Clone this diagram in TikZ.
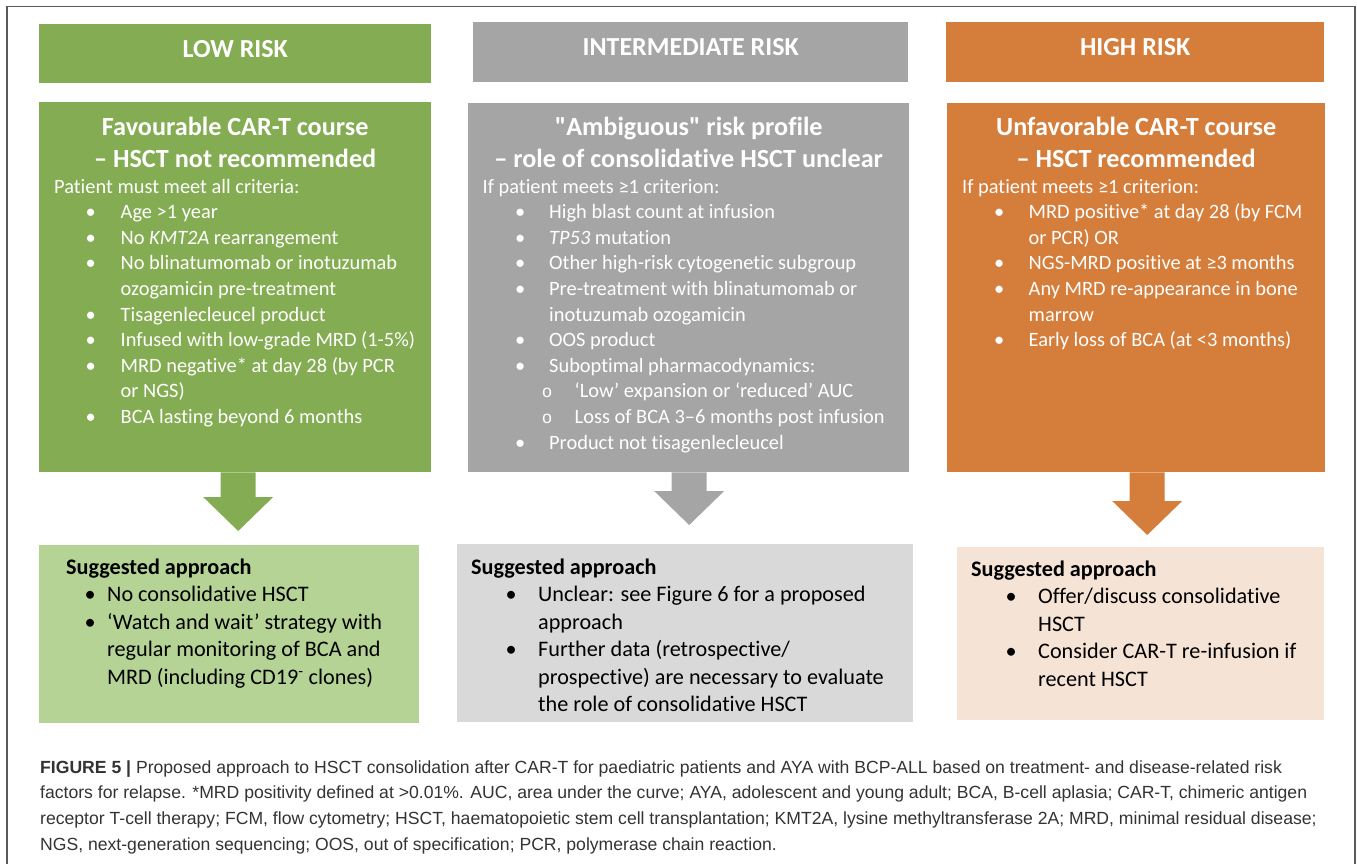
\documentclass[tikz,border=0pt]{standalone}
\usepackage{fontspec}
\setmainfont{Carlito}[Ligatures=NoCommon]
\newfontfamily\capfont{Liberation Sans}
\newfontfamily\subfont{Liberation Mono}
\usetikzlibrary{positioning,calc}

\definecolor{lowgreen}{HTML}{84AC52}
\definecolor{midgray}{HTML}{A5A5A5}
\definecolor{highorange}{HTML}{D57D3B}
\definecolor{lowlight}{HTML}{B4D394}
\definecolor{midlight}{HTML}{D9D9D9}
\definecolor{highlight}{HTML}{F5E3D6}
\definecolor{framegray}{HTML}{5A5A5A}
\definecolor{captext}{HTML}{333333}

% bullet at #1 from the left, text #2 further on
\newcommand{\bu}[2]{\hspace*{#1}\makebox[0pt]{\textbullet}\hspace*{#2}}
\newcommand{\sbu}[2]{\hspace*{#1}\makebox[0pt]{\subfont\fontsize{17.5}{17.5}\selectfont o}\hspace*{#2}}

% block arrow: colour, from node, to node, x offset, gap above target
\newcommand{\blockarr}[5]{%
  \path let \p1=([xshift=#4pt]#2.south), \p2=(#3.north) in
    [fill=#1] (\x1-17.5pt,\y1) -- (\x1-17.5pt,\y2+#5pt+34pt) -- (\x1-35pt,\y2+#5pt+34pt)
    -- (\x1,\y2+#5pt) -- (\x1+35pt,\y2+#5pt+34pt) -- (\x1+17.5pt,\y2+#5pt+34pt)
    -- (\x1+17.5pt,\y1) -- cycle;}

\tikzset{
  riskhead/.style={fill=#1, anchor=north west, inner sep=0pt, text=white,
    text height=17pt, text depth=10pt, font=\bfseries\fontsize{26}{30}\selectfont},
  critbox/.style={fill=#1, anchor=north west, inner sep=0pt},
  critttl/.style={anchor=north, inner sep=0pt, align=center, text=white,
    font=\bfseries\fontsize{26.2}{31.5}\selectfont},
  critlist/.style={anchor=north west, inner sep=0pt, align=left, text=white,
    font=\fontsize{20.4}{25.6}\selectfont},
  planbox/.style={fill=#1, anchor=north west, inner sep=0pt},
  planlist/.style={anchor=north west, inner sep=0pt, align=left, text=black,
    font=\fontsize{22.2}{27.5}\selectfont},
}

\begin{document}
\begin{tikzpicture}[x=1pt,y=-1pt]
\useasboundingbox (0,0) rectangle (1357,864);

% outer frame
\draw[framegray, line width=1.5pt] (7,864) -- (7,6.5) -- (1355,6.5) -- (1355,864);

% headers
\node[riskhead=lowgreen, minimum width=392, minimum height=59] (lowhead) at (39,24) {LOW RISK};
\node[riskhead=midgray, minimum width=435, minimum height=60] (midhead) at (473,22) {INTERMEDIATE RISK};
\node[riskhead=highorange, minimum width=378, minimum height=60] (highhead) at (946,22) {HIGH RISK};

% criteria boxes
\node[critbox=lowgreen, minimum width=392, minimum height=370] (lowcrit) at (39,102) {};
\node[critbox=midgray, minimum width=441, minimum height=369] (midcrit) at (468,103) {};
\node[critbox=highorange, minimum width=378, minimum height=369] (highcrit) at (947,103) {};

\node[critttl] (lowttl) at ([yshift=-11.5pt]lowcrit.north)
  {\strut Favourable CAR-T course\\– HSCT not recommended};
\node[critttl] (midttl) at ([yshift=-10.5pt]midcrit.north)
  {\strut \textquotedbl Ambiguous\textquotedbl{} risk profile\\– role of consolidative HSCT unclear};
\node[critttl] (highttl) at ([yshift=-10.5pt]highcrit.north)
  {\strut Unfavorable CAR-T course\\– HSCT recommended};

\node[critlist] (lowlist) at ([xshift=15pt,yshift=-73pt]lowcrit.north west) {\strut
  Patient must meet all criteria:\\
  \bu{36.5pt}{30pt}Age >1 year\\
  \bu{36.5pt}{30pt}No \textit{KMT2A} rearrangement\\
  \bu{36.5pt}{30pt}No blinatumomab or inotuzumab\\
  \hspace*{66.5pt}ozogamicin pre-treatment\\
  \bu{36.5pt}{30pt}Tisagenlecleucel product\\
  \bu{36.5pt}{30pt}Infused with low-grade MRD (1-5\%)\\
  \bu{36.5pt}{30pt}MRD negative* at day 28 (by PCR\\
  \hspace*{66.5pt}or NGS)\\
  \bu{36.5pt}{30pt}BCA lasting beyond 6 months};

\node[critlist] (midlist) at ([xshift=14.5pt,yshift=-72pt]midcrit.north west) {\strut
  If patient meets ≥1 criterion:\\
  \bu{37.5pt}{29pt}High blast count at infusion\\
  \bu{37.5pt}{29pt}\textit{TP53} mutation\\
  \bu{37.5pt}{29pt}Other high-risk cytogenetic subgroup\\
  \bu{37.5pt}{29pt}Pre-treatment with blinatumomab or\\
  \hspace*{66.5pt}inotuzumab ozogamicin\\
  \bu{37.5pt}{29pt}OOS product\\
  \bu{37.5pt}{29pt}Suboptimal pharmacodynamics:\\
  \sbu{64.5pt}{27.5pt}‘Low’ expansion or ‘reduced’ AUC\\
  \sbu{64.5pt}{27.5pt}Loss of BCA 3–6 months post infusion\\
  \bu{37.5pt}{29pt}Product not tisagenlecleucel};

\node[critlist] (highlist) at ([xshift=15pt,yshift=-72pt]highcrit.north west) {\strut
  If patient meets ≥1 criterion:\\
  \bu{37pt}{29.5pt}MRD positive* at day 28 (by FCM\\
  \hspace*{66.5pt}or PCR) OR\\
  \bu{37pt}{29.5pt}NGS-MRD positive at ≥3 months\\
  \bu{37pt}{29.5pt}Any MRD re-appearance in bone\\
  \hspace*{66.5pt}marrow\\
  \bu{37pt}{29.5pt}Early loss of BCA (at <3 months)};

% approach boxes
\node[planbox=lowlight, minimum width=380, minimum height=178] (lowplan) at (39,545) {};
\node[planbox=midlight, minimum width=456, minimum height=178] (midplan) at (457,544) {};
\node[planbox=highlight, minimum width=367, minimum height=173] (highplan) at (957,547) {};

\blockarr{lowgreen}{lowcrit}{lowplan}{3}{14}
\blockarr{midgray}{midcrit}{midplan}{0.5}{19}
\blockarr{highorange}{highcrit}{highplan}{11}{12}

\node[planlist] (lowtext) at ([xshift=27pt,yshift=-10pt]lowplan.north west) {\strut
  \textbf{Suggested approach}\\
  \bu{24pt}{17pt}No consolidative HSCT\\
  \bu{24pt}{17pt}‘Watch and wait’ strategy with\\
  \hspace*{41pt}regular monitoring of BCA and\\
  \hspace*{41pt}MRD (including CD19\textsuperscript{-} clones)};

\node[planlist] (midtext) at ([xshift=14pt,yshift=-11pt]midplan.north west) {\strut
  \textbf{Suggested approach}\\
  \bu{40pt}{27pt}Unclear: see Figure 6 for a proposed\\
  \hspace*{67pt}approach\\
  \bu{40pt}{27pt}Further data (retrospective/\\
  \hspace*{67pt}prospective) are necessary to evaluate\\
  \hspace*{67pt}the role of consolidative HSCT};

\node[planlist] (hightext) at ([xshift=14pt,yshift=-10pt]highplan.north west) {\strut
  \textbf{Suggested approach}\\
  \bu{40pt}{27pt}Offer/discuss consolidative\\
  \hspace*{67pt}HSCT\\
  \bu{40pt}{27pt}Consider CAR-T re-infusion if\\
  \hspace*{67pt}recent HSCT};

% caption
\node[anchor=north west, inner sep=0pt, align=left, text=captext,
  font=\capfont\fontsize{17.6}{25.7}\selectfont] (caption) at (40,755) {\strut
  \textbf{FIGURE 5 |} Proposed approach to HSCT consolidation after CAR-T for paediatric patients and AYA with BCP-ALL based on treatment- and disease-related risk\\
  factors for relapse. *MRD positivity defined at >0.01\%. AUC, area under the curve; AYA, adolescent and young adult; BCA, B-cell aplasia; CAR-T, chimeric antigen\\
  receptor T-cell therapy; FCM, flow cytometry; HSCT, haematopoietic stem cell transplantation; KMT2A, lysine methyltransferase 2A; MRD, minimal residual disease;\\
  NGS, next-generation sequencing; OOS, out of specification; PCR, polymerase chain reaction.};

\end{tikzpicture}
\end{document}
